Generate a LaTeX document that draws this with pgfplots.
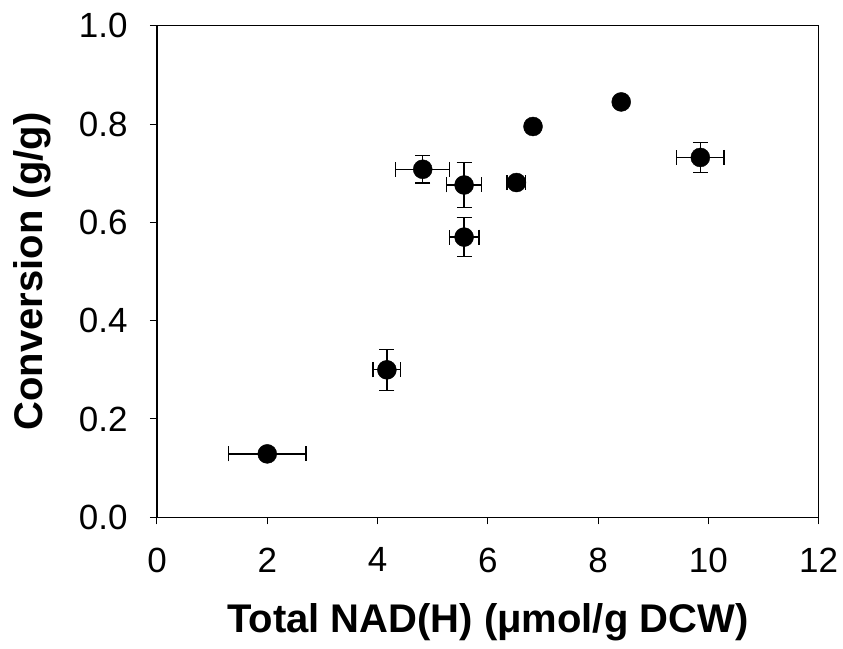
\documentclass[border=0pt]{standalone}
\usepackage{fontspec}
\setmainfont{Liberation Sans}
\usepackage{pgfplots}
\pgfplotsset{compat=1.18}
\usepackage{pgfplotstable}
\pgfplotstableread{
x y ex ey
2.00 0.129 0.70 0
4.17 0.300 0.25 0.042
4.82 0.708 0.49 0.028
5.57 0.676 0.32 0.046
5.57 0.570 0.27 0.040
6.52 0.681 0.17 0.005
6.82 0.795 0 0
8.42 0.845 0 0
9.855 0.732 0.43 0.030
}\datatable
\begin{document}
\begin{tikzpicture}
\begin{axis}[
  scale only axis,
  width=661.6bp, height=491.6bp,
  xmin=0, xmax=12, ymin=0, ymax=1,
  xtick={0,2,4,6,8,10,12},
  ytick={0,0.2,0.4,0.6,0.8,1.0},
  yticklabel style={/pgf/number format/fixed, /pgf/number format/fixed zerofill, /pgf/number format/precision=1, xshift=-19bp},
  /pgf/number format/assume math mode=true,
  tick label style={font=\fontsize{35bp}{35bp}\selectfont},
  tick align=outside, tick pos=left,
  major tick length=7bp,
  axis line style={line width=1.2bp},
  every tick/.style={line width=1bp, black},
  xticklabel style={yshift=-20bp},
  label style={font=\fontsize{40bp}{40bp}\selectfont\bfseries},
  xlabel={Total NAD(H) (μmol/g DCW)},
  ylabel={Conversion (g/g)},
  xlabel style={yshift=-24bp},
  ylabel style={yshift=21bp},
  clip=false,
]
\addplot[only marks, mark=*, mark size=9.5bp, black,
  error bars/.cd, x dir=both, y dir=both, x explicit, y explicit,
  error bar style={line width=1.3bp, black},
  error mark options={rotate=90, mark size=7.5bp, line width=1.3bp, black}]
  table[x=x, y=y, x error=ex, y error=ey] {\datatable};
\path (rel axis cs:-0.2373,-0.2659) rectangle (rel axis cs:1.0369,1.0523);
\end{axis}
\end{tikzpicture}
\end{document}
